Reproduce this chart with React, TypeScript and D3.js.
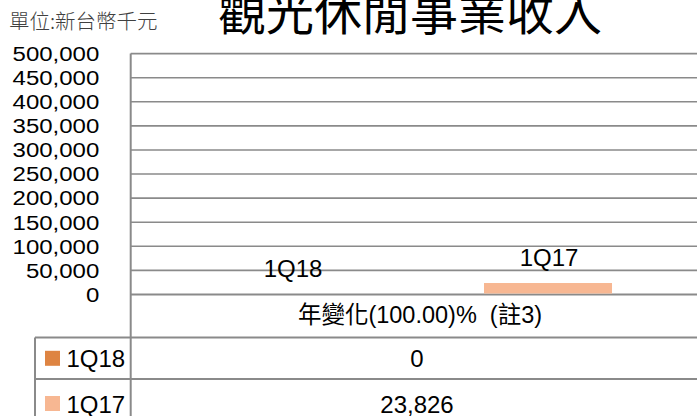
import React from "react";
import * as d3 from "d3";

const title = "觀光休閒事業收入";
const unitLabel = "單位:新台幣千元";
const categories = ["年變化(100.00)%  (註3)"];
const seriesNames = ["1Q18", "1Q17"];
const values1Q18 = [0];
const values1Q17 = [23826];
const seriesColors = ["#DE8442", "#F7B792"];
const yTicks = [0, 50000, 100000, 150000, 200000, 250000, 300000, 350000, 400000, 450000, 500000];

const W = 697;
const H = 416;
const plotLeft = 130.7;
const plotRight = 709.3;
const plotTop = 53.6;
const plotBottom = 294.5;
const tableLeft = 35;
const row1Top = 337.5;
const row2Top = 379;

const LATIN = "'Liberation Sans', 'Noto Sans CJK TC', sans-serif";
const CJK = "'Noto Sans CJK TC', 'Noto Sans CJK JP', sans-serif";
const GRID = "#8a8a8a";

export default function App() {
  const series = [values1Q18, values1Q17];
  const y = d3.scaleLinear().domain([0, 500000]).range([plotBottom, plotTop]);
  const x0 = d3.scaleBand<string>().domain(categories).range([plotLeft, plotRight]).padding(0);
  const x1 = d3
    .scaleBand<string>()
    .domain(seriesNames)
    .range([0, x0.bandwidth()])
    .paddingInner(0.5)
    .paddingOuter(0.38);
  const fmt = d3.format(",");

  const rowTops = [row1Top, row2Top];
  const rowBaselines = [367.3, 412.5];

  return (
    <svg
      width={W}
      height={H}
      style={{ position: "absolute", left: 0, top: 0, background: "#fff" }}
      fontFamily={LATIN}
    >
      {/* title */}
      <text x={410} y={30} textAnchor="middle" fontFamily={CJK} fontSize={48} fill="#000">
        {title}
      </text>
      <text x={9} y={28.5} fontFamily={CJK} fontSize={20.5} fontWeight={300} fill="#404040">
        {unitLabel}
      </text>

      {/* gridlines */}
      {yTicks.map((t) => (
        <line
          key={"g" + t}
          x1={plotLeft}
          x2={W}
          y1={y(t)}
          y2={y(t)}
          stroke={GRID}
          strokeWidth={t === 0 ? 2 : 1.6}
        />
      ))}

      {/* y tick labels */}
      {yTicks.map((t) => (
        <text
          key={"t" + t}
          transform={`translate(99.3, ${y(t) + 7.3}) scale(1, 0.86)`}
          textAnchor="end"
          fontSize={24}
          fill="#000"
        >
          {fmt(t)}
        </text>
      ))}

      {/* bars */}
      {categories.map((c, ci) =>
        seriesNames.map((s, si) => {
          const v = series[si][ci];
          const bx = (x0(c) as number) + (x1(s) as number);
          const by = y(v);
          return (
            <g key={c + s}>
              <rect
                x={bx}
                y={by}
                width={x1.bandwidth()}
                height={plotBottom - 1 - by > 0 ? plotBottom - 1 - by : 0}
                fill={seriesColors[si]}
              />
              <text
                x={bx + x1.bandwidth() / 2 + 1}
                y={by - 17.5}
                textAnchor="middle"
                fontSize={24}
                fill="#000"
              >
                {s}
              </text>
            </g>
          );
        })
      )}

      {/* category label */}
      {categories.map((c) => (
        <text
          key={"c" + c}
          x={(x0(c) as number) + x0.bandwidth() / 2}
          y={323.3}
          textAnchor="middle"
          fontSize={23.5}
          fill="#000"
          style={{ whiteSpace: "pre" }}
        >
          {c}
        </text>
      ))}

      {/* data table lines */}
      <line x1={plotLeft} x2={plotLeft} y1={plotTop} y2={H} stroke={GRID} strokeWidth={2} />
      <line x1={tableLeft} x2={tableLeft} y1={row1Top} y2={H} stroke={GRID} strokeWidth={2} />
      {rowTops.map((rt) => (
        <line key={"r" + rt} x1={tableLeft} x2={W} y1={rt} y2={rt} stroke={GRID} strokeWidth={2} />
      ))}

      {/* table rows */}
      {seriesNames.map((s, si) => (
        <g key={"row" + s}>
          <rect x={45} y={rowBaselines[si] - 16.5} width={15} height={15} fill={seriesColors[si]} />
          <text x={66.5} y={rowBaselines[si]} fontSize={24} fill="#000">
            {s}
          </text>
          {categories.map((c, ci) => (
            <text
              key={c}
              x={(x0(c) as number) + x0.bandwidth() / 2 - 3}
              y={rowBaselines[si]}
              textAnchor="middle"
              fontSize={24}
              fill="#000"
            >
              {fmt(series[si][ci])}
            </text>
          ))}
        </g>
      ))}
    </svg>
  );
}
